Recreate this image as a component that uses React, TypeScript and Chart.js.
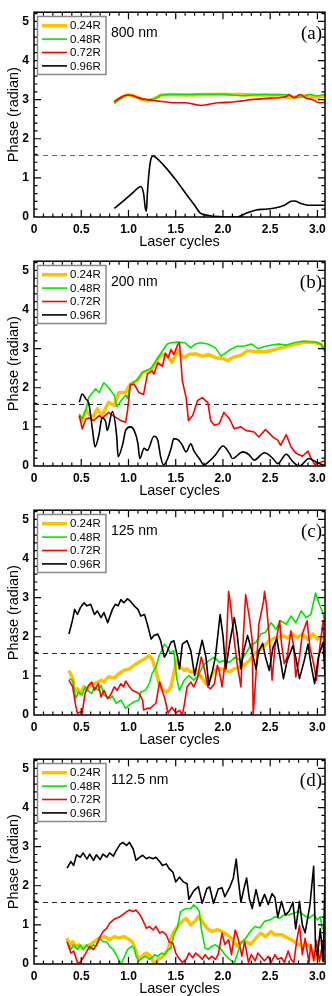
import React, { useEffect, useRef } from "react";
import { Chart, registerables } from "chart.js";

Chart.register(...registerables);

type P = [number, number];

const X_MIN = 0;
const X_MAX = 3.08;
const Y_MIN = 0;
const Y_MAX = 5.236;
const X_TICKS = [0, 0.5, 1, 1.5, 2, 2.5, 3];
const Y_TICKS = [0, 1, 2, 3, 4, 5];
const HALF_PI = Math.PI / 2;

const SERIES_NAMES = ["0.24R", "0.48R", "0.72R", "0.96R"];
const SERIES_COLORS = ["#ffc000", "#00e600", "#ff0000", "#000000"];
const SERIES_WIDTHS = [3.5, 1.6, 1.6, 1.6];
const WAVELENGTHS = ["800 nm", "200 nm", "125 nm", "112.5 nm"];
const PANEL_LABELS = ["(a)", "(b)", "(c)", "(d)"];
const DASH_COLORS = ["#666666", "#222222", "#222222", "#222222"];

// ---------- panel (a) 800 nm ----------
const A24: P[] = [[0.85,2.93],[0.9,3.02],[0.95,3.08],[1.0,3.12],[1.05,3.1],[1.1,3.05],[1.15,3.0],[1.2,2.97],[1.25,3.0],[1.3,3.06],[1.35,3.12],[1.45,3.13],[1.6,3.12],[1.8,3.13],[2.0,3.14],[2.2,3.13],[2.4,3.12],[2.6,3.12],[2.65,3.08],[2.7,3.05],[2.8,3.08],[2.9,3.1],[3.0,3.06],[3.08,3.1]];
const A48: P[] = [[0.85,2.9],[0.9,3.0],[0.95,3.08],[1.0,3.12],[1.05,3.1],[1.1,3.05],[1.15,3.02],[1.2,3.0],[1.25,3.0],[1.3,3.05],[1.35,3.12],[1.45,3.13],[1.6,3.13],[1.8,3.14],[2.0,3.14],[2.1,3.12],[2.2,3.1],[2.3,3.12],[2.45,3.13],[2.55,3.12],[2.65,3.13],[2.7,3.1],[2.78,3.05],[2.85,3.08],[2.92,3.13],[3.0,3.1],[3.08,3.13]];
const A72: P[] = [[0.85,2.95],[0.9,3.03],[0.95,3.1],[1.0,3.12],[1.05,3.1],[1.1,3.05],[1.2,3.0],[1.3,2.97],[1.4,2.94],[1.5,2.92],[1.6,2.92],[1.7,2.88],[1.77,2.85],[1.85,2.88],[1.95,2.92],[2.1,2.94],[2.2,2.97],[2.3,3.0],[2.4,3.02],[2.5,3.04],[2.6,3.05],[2.67,3.08],[2.7,3.13],[2.75,3.05],[2.78,3.08],[2.82,3.13],[2.87,3.05],[2.95,3.0],[3.02,2.92],[3.08,2.93]];
const A96: P[] = [[0.85,0.22],[0.95,0.42],[1.05,0.63],[1.1,0.74],[1.13,0.78],[1.16,0.6],[1.18,0.2],[1.19,0.15],[1.2,0.6],[1.22,1.2],[1.24,1.5],[1.26,1.56],[1.3,1.5],[1.4,1.25],[1.5,0.95],[1.6,0.62],[1.7,0.3],[1.76,0.1],[1.85,0.04],[1.95,0.01],[2.05,0.0],[2.15,0.0],[2.25,0.1],[2.35,0.18],[2.45,0.2],[2.55,0.23],[2.65,0.3],[2.72,0.4],[2.76,0.41],[2.82,0.35],[2.9,0.3],[3.0,0.3],[3.08,0.3]];

// ---------- panel (b) 200 nm ----------
const B24: P[] = [[0.48,1.29],[0.51,1.16],[0.55,1.42],[0.59,1.3],[0.62,1.23],[0.67,1.46],[0.72,1.29],[0.79,1.63],[0.85,1.55],[0.9,1.88],[0.97,1.88],[1.02,2.09],[1.09,2.17],[1.15,2.39],[1.24,2.45],[1.32,2.77],[1.36,2.85],[1.41,2.82],[1.46,2.65],[1.52,2.96],[1.55,2.85],[1.59,2.77],[1.64,2.85],[1.71,2.87],[1.78,2.81],[1.85,2.85],[1.92,2.77],[2.0,2.75],[2.05,2.69],[2.1,2.77],[2.19,2.83],[2.26,2.95],[2.35,2.92],[2.45,2.92],[2.56,2.98],[2.67,3.06],[2.77,3.11],[2.86,3.17],[2.98,3.15],[3.04,3.11],[3.07,2.98]];
const B48: P[] = [[0.48,1.33],[0.51,1.2],[0.55,1.45],[0.58,1.75],[0.65,1.97],[0.69,1.88],[0.74,2.13],[0.79,2.0],[0.85,1.81],[0.876,1.52],[0.92,1.66],[0.97,1.81],[0.99,1.73],[1.02,2.09],[1.09,2.2],[1.15,2.4],[1.24,2.5],[1.32,2.8],[1.37,2.98],[1.41,3.12],[1.45,3.15],[1.52,3.17],[1.6,3.15],[1.66,3.02],[1.71,3.12],[1.76,3.15],[1.84,3.12],[1.92,3.02],[1.98,2.81],[2.03,2.89],[2.08,2.98],[2.15,3.06],[2.22,3.06],[2.3,3.12],[2.37,3.0],[2.45,3.06],[2.53,3.1],[2.59,3.12],[2.67,3.09],[2.75,3.15],[2.84,3.19],[2.98,3.17],[3.04,3.11],[3.08,2.92]];
const B72: P[] = [[0.48,1.29],[0.51,0.95],[0.55,1.2],[0.58,1.23],[0.63,1.16],[0.69,1.29],[0.72,1.22],[0.79,1.37],[0.85,1.27],[0.92,1.16],[0.97,1.12],[0.99,1.42],[1.02,2.07],[1.06,2.09],[1.11,1.88],[1.16,1.83],[1.2,2.35],[1.25,2.43],[1.27,2.35],[1.31,2.64],[1.36,2.55],[1.39,2.89],[1.42,2.77],[1.45,2.98],[1.48,2.85],[1.52,3.1],[1.54,3.15],[1.57,2.18],[1.61,1.75],[1.635,1.16],[1.68,1.29],[1.73,1.67],[1.78,1.75],[1.84,1.62],[1.87,1.16],[1.91,1.04],[1.96,1.08],[2.01,1.37],[2.07,1.2],[2.12,0.95],[2.19,1.0],[2.24,0.91],[2.33,0.87],[2.38,0.74],[2.45,0.93],[2.53,0.74],[2.58,0.66],[2.61,0.53],[2.67,0.8],[2.72,0.49],[2.77,0.33],[2.84,0.25],[2.9,0.38],[2.93,0.21],[2.97,0.04],[3.02,0.08],[3.07,0.13]];
const B96: P[] = [[0.48,1.63],[0.51,1.84],[0.55,1.71],[0.58,1.6],[0.62,0.91],[0.646,0.49],[0.69,0.83],[0.72,1.23],[0.76,1.12],[0.775,0.91],[0.83,1.39],[0.876,0.74],[0.89,0.24],[0.94,0.57],[0.97,0.91],[1.02,1.0],[1.06,0.91],[1.1,0.57],[1.12,0.19],[1.165,0.45],[1.2,0.4],[1.27,0.76],[1.31,0.66],[1.34,0.24],[1.37,0.03],[1.41,0.16],[1.45,0.44],[1.48,0.7],[1.53,0.66],[1.57,0.53],[1.61,0.36],[1.66,0.57],[1.69,0.4],[1.75,0.19],[1.8,0.03],[1.85,0.11],[1.92,0.28],[2.0,0.51],[2.07,0.32],[2.1,0.19],[2.21,0.36],[2.28,0.28],[2.33,0.15],[2.44,0.34],[2.53,0.19],[2.58,0.06],[2.67,0.3],[2.74,0.11],[2.81,0.0],[2.91,0.19],[2.98,0.11],[3.05,0.03],[3.08,0.02]];

// ---------- panel (c) 125 nm ----------
const C24: P[] = [[0.37,1.14],[0.41,0.93],[0.43,0.59],[0.46,0.67],[0.49,0.55],[0.53,0.72],[0.56,0.63],[0.6,0.8],[0.65,0.81],[0.71,0.89],[0.74,0.84],[0.79,0.98],[0.85,0.95],[0.9,1.06],[0.95,1.14],[1.01,1.18],[1.06,1.27],[1.11,1.35],[1.17,1.43],[1.22,1.52],[1.25,1.43],[1.29,1.14],[1.32,0.84],[1.36,0.63],[1.41,0.59],[1.45,0.72],[1.48,1.06],[1.51,1.42],[1.55,1.22],[1.59,1.14],[1.62,1.18],[1.66,1.1],[1.71,1.14],[1.77,0.97],[1.82,0.8],[1.85,0.89],[1.91,1.14],[1.96,1.18],[2.01,1.16],[2.07,1.1],[2.12,1.18],[2.17,1.22],[2.22,1.27],[2.28,1.39],[2.33,1.56],[2.38,1.64],[2.44,1.77],[2.49,1.9],[2.56,1.98],[2.63,2.03],[2.68,1.97],[2.74,2.07],[2.79,1.98],[2.84,2.07],[2.9,1.94],[2.95,2.07],[3.0,1.94],[3.06,1.98],[3.08,1.95]];
const C48: P[] = [[0.37,0.93],[0.41,0.89],[0.44,0.42],[0.47,0.59],[0.51,0.51],[0.54,0.72],[0.57,0.63],[0.61,0.55],[0.64,0.72],[0.68,0.63],[0.71,0.76],[0.74,0.51],[0.8,0.42],[0.83,0.48],[0.87,0.3],[0.92,0.38],[0.97,0.17],[1.01,0.25],[1.06,0.34],[1.11,0.38],[1.13,0.59],[1.18,0.63],[1.22,0.8],[1.25,1.06],[1.29,1.22],[1.32,1.48],[1.38,1.81],[1.41,1.73],[1.44,1.6],[1.48,1.64],[1.51,0.95],[1.54,0.63],[1.59,0.89],[1.64,1.01],[1.69,0.89],[1.74,1.01],[1.79,1.27],[1.85,1.39],[1.91,1.48],[1.96,1.35],[2.01,1.39],[2.07,1.35],[2.13,1.48],[2.19,1.39],[2.24,1.56],[2.29,1.77],[2.35,1.86],[2.4,2.07],[2.45,2.11],[2.51,2.36],[2.56,2.19],[2.61,2.41],[2.67,2.32],[2.72,2.53],[2.77,2.36],[2.83,2.66],[2.88,2.49],[2.93,2.57],[2.98,3.12],[3.02,2.83],[3.06,2.6],[3.08,2.3]];
const C72: P[] = [[0.37,0.89],[0.41,0.72],[0.44,0.25],[0.46,0.04],[0.49,0.08],[0.51,0.04],[0.54,0.55],[0.57,0.72],[0.61,0.84],[0.64,0.63],[0.68,0.8],[0.71,0.46],[0.74,0.63],[0.78,0.42],[0.81,0.51],[0.85,0.72],[0.88,0.63],[0.92,0.8],[0.95,0.72],[0.97,0.87],[1.01,0.72],[1.04,0.63],[1.08,0.59],[1.11,0.55],[1.15,0.38],[1.16,0.13],[1.2,0.17],[1.23,0.17],[1.29,0.3],[1.33,0.85],[1.36,0.6],[1.38,0.46],[1.42,0.05],[1.46,0.2],[1.5,0.05],[1.54,0.12],[1.57,0.0],[1.59,0.25],[1.62,0.72],[1.66,0.84],[1.69,0.72],[1.73,0.93],[1.77,1.48],[1.8,1.22],[1.84,0.72],[1.87,0.67],[1.91,0.8],[1.94,1.27],[1.96,1.14],[1.99,0.72],[2.03,1.48],[2.06,3.16],[2.08,2.83],[2.12,1.9],[2.15,1.31],[2.19,0.72],[2.2,1.31],[2.24,3.08],[2.28,2.49],[2.31,1.9],[2.32,0.0],[2.35,1.05],[2.38,2.32],[2.43,2.91],[2.44,3.16],[2.46,2.83],[2.49,1.98],[2.52,0.89],[2.55,1.73],[2.6,2.41],[2.62,1.81],[2.65,1.31],[2.68,1.48],[2.72,2.15],[2.75,1.73],[2.77,0.97],[2.81,1.48],[2.84,2.07],[2.89,2.41],[2.92,1.73],[2.96,1.31],[2.99,0.89],[3.02,1.64],[3.06,2.41],[3.08,1.2]];
const C96: P[] = [[0.37,2.07],[0.41,2.45],[0.43,2.7],[0.46,2.57],[0.49,2.74],[0.53,2.87],[0.56,2.79],[0.6,2.83],[0.64,2.57],[0.67,2.66],[0.71,2.49],[0.74,2.62],[0.78,2.36],[0.83,2.7],[0.86,2.83],[0.89,2.79],[0.92,2.95],[0.95,2.87],[0.99,2.97],[1.02,2.91],[1.06,2.79],[1.1,2.7],[1.13,2.53],[1.17,2.57],[1.2,2.32],[1.24,1.94],[1.27,2.03],[1.31,2.07],[1.34,1.9],[1.38,1.48],[1.4,1.56],[1.45,1.86],[1.48,1.9],[1.52,1.48],[1.54,1.18],[1.57,1.81],[1.62,1.9],[1.66,1.64],[1.7,1.01],[1.74,1.48],[1.78,1.91],[1.82,1.48],[1.85,0.76],[1.89,1.14],[1.92,1.48],[1.97,2.57],[2.0,2.03],[2.03,1.18],[2.07,1.81],[2.12,2.49],[2.15,2.07],[2.19,1.18],[2.22,1.64],[2.26,2.03],[2.3,1.69],[2.35,1.18],[2.38,1.64],[2.42,1.83],[2.45,1.48],[2.49,1.14],[2.53,1.73],[2.57,1.95],[2.61,1.39],[2.64,0.93],[2.68,1.39],[2.74,1.77],[2.77,1.48],[2.81,0.93],[2.86,1.39],[2.9,1.81],[2.93,1.31],[2.97,0.8],[3.01,1.48],[3.06,1.86],[3.08,1.0]];

// ---------- panel (d) 112.5 nm ----------
const D24: P[] = [[0.35,0.66],[0.38,0.45],[0.41,0.57],[0.44,0.45],[0.47,0.49],[0.51,0.4],[0.54,0.45],[0.59,0.49],[0.64,0.57],[0.69,0.66],[0.75,0.7],[0.8,0.62],[0.85,0.7],[0.9,0.66],[0.95,0.7],[1.01,0.62],[1.04,0.57],[1.06,0.45],[1.09,0.24],[1.12,0.12],[1.16,0.24],[1.19,0.28],[1.23,0.2],[1.26,0.08],[1.28,0.0],[1.31,0.12],[1.35,0.16],[1.38,0.24],[1.42,0.37],[1.45,0.66],[1.48,0.83],[1.52,0.95],[1.55,1.05],[1.61,1.17],[1.66,1.0],[1.71,1.1],[1.74,1.22],[1.78,1.09],[1.83,0.92],[1.88,0.83],[1.94,0.88],[1.99,0.83],[2.04,0.75],[2.09,0.66],[2.15,0.45],[2.19,0.54],[2.24,0.58],[2.29,0.5],[2.35,0.66],[2.4,0.79],[2.45,0.7],[2.51,0.83],[2.55,0.75],[2.62,0.75],[2.69,0.66],[2.75,0.58],[2.8,0.5],[2.85,0.45],[2.9,0.5],[2.95,0.33],[2.98,0.12],[3.02,0.33],[3.05,0.12],[3.08,0.16]];
const D48: P[] = [[0.35,0.57],[0.39,0.37],[0.42,0.49],[0.46,0.37],[0.49,0.49],[0.52,0.37],[0.56,0.49],[0.59,0.37],[0.63,0.49],[0.66,0.45],[0.7,0.66],[0.73,0.57],[0.77,0.57],[0.8,0.45],[0.84,0.37],[0.87,0.24],[0.91,0.04],[0.92,0.0],[0.96,0.2],[0.99,0.37],[1.03,0.45],[1.06,0.41],[1.08,0.2],[1.11,0.08],[1.15,0.16],[1.18,0.2],[1.22,0.12],[1.25,0.16],[1.28,0.24],[1.31,0.2],[1.35,0.28],[1.38,0.24],[1.42,0.37],[1.45,0.41],[1.48,0.74],[1.52,0.95],[1.55,1.34],[1.61,1.42],[1.66,1.42],[1.69,1.51],[1.73,1.42],[1.75,1.34],[1.77,0.92],[1.81,0.41],[1.84,0.37],[1.88,0.45],[1.92,0.49],[1.97,0.41],[2.02,0.24],[2.07,0.12],[2.12,0.04],[2.15,0.24],[2.19,0.54],[2.24,0.66],[2.29,0.83],[2.34,0.96],[2.39,0.92],[2.44,1.09],[2.5,1.13],[2.55,1.21],[2.6,1.17],[2.65,1.26],[2.7,1.26],[2.75,1.3],[2.8,1.34],[2.85,1.26],[2.91,1.17],[2.96,1.26],[3.0,1.13],[3.03,1.21],[3.05,0.92],[3.08,0.85]];
const D72: P[] = [[0.35,0.57],[0.39,0.28],[0.42,0.33],[0.46,0.04],[0.49,0.04],[0.52,0.16],[0.56,0.33],[0.59,0.45],[0.63,0.37],[0.66,0.49],[0.7,0.7],[0.73,0.83],[0.77,0.91],[0.8,1.04],[0.84,1.13],[0.87,1.17],[0.91,1.21],[0.94,1.26],[0.98,1.34],[1.01,1.38],[1.05,1.34],[1.08,1.38],[1.12,1.26],[1.15,1.13],[1.19,0.91],[1.22,0.96],[1.26,0.87],[1.29,0.96],[1.33,0.79],[1.36,0.83],[1.4,0.74],[1.43,0.57],[1.47,0.53],[1.5,0.28],[1.53,0.16],[1.57,0.04],[1.61,0.12],[1.64,0.28],[1.68,0.16],[1.71,0.28],[1.75,0.2],[1.78,0.12],[1.81,0.24],[1.85,0.12],[1.88,0.2],[1.92,0.12],[1.95,0.24],[1.99,0.79],[2.02,0.5],[2.06,0.62],[2.09,0.24],[2.13,0.87],[2.16,0.66],[2.2,0.2],[2.23,0.58],[2.27,0.04],[2.3,0.24],[2.34,0.08],[2.37,0.28],[2.41,0.16],[2.44,0.08],[2.48,0.2],[2.51,0.04],[2.55,0.24],[2.58,0.12],[2.62,0.16],[2.65,0.04],[2.69,0.33],[2.72,0.12],[2.75,0.04],[2.78,0.58],[2.81,0.99],[2.84,0.24],[2.87,0.66],[2.91,0.04],[2.93,0.5],[2.96,0.08],[2.99,0.6],[3.02,0.06],[3.06,0.58],[3.08,0.44]];
const D96: P[] = [[0.35,2.45],[0.39,2.62],[0.42,2.52],[0.45,2.79],[0.49,2.73],[0.52,2.84],[0.56,2.68],[0.59,2.81],[0.63,2.65],[0.66,2.79],[0.7,2.67],[0.73,2.81],[0.77,2.73],[0.8,2.84],[0.84,2.76],[0.87,2.9],[0.91,3.06],[0.94,3.11],[0.98,3.03],[1.01,3.11],[1.05,2.94],[1.08,2.65],[1.12,2.73],[1.15,2.78],[1.19,2.69],[1.22,2.73],[1.26,2.69],[1.29,2.73],[1.33,2.62],[1.36,2.52],[1.4,2.56],[1.43,2.44],[1.47,2.35],[1.5,2.1],[1.54,2.22],[1.58,2.1],[1.62,2.05],[1.64,1.65],[1.69,1.87],[1.74,1.98],[1.78,1.55],[1.83,1.93],[1.86,1.97],[1.9,1.55],[1.95,1.92],[1.99,1.95],[2.02,1.72],[2.07,1.95],[2.11,2.2],[2.14,2.68],[2.16,2.2],[2.19,1.58],[2.22,1.9],[2.25,2.2],[2.28,1.66],[2.31,1.42],[2.35,1.9],[2.39,1.48],[2.44,1.78],[2.48,1.52],[2.52,1.8],[2.55,1.7],[2.58,1.2],[2.62,1.6],[2.66,1.25],[2.7,1.35],[2.74,1.58],[2.77,0.9],[2.81,1.6],[2.84,1.0],[2.87,0.8],[2.92,1.5],[2.96,2.5],[2.98,0.4],[3.0,0.2],[3.03,0.9],[3.06,0.06],[3.08,2.2]];

const PANEL_SERIES: P[][][] = [
  [A24, A48, A72, A96],
  [B24, B48, B72, B96],
  [C24, C48, C72, C96],
  [D24, D48, D72, D96],
];

const SANS = "'Liberation Sans', Arial, Helvetica, sans-serif";
const SERIF = "'Liberation Serif', 'Times New Roman', serif";
const W = 332;
const H = 249;

function makeFramePlugin(panel: number) {
  return {
    id: "frame" + panel,
    afterDraw(chart: any) {
      const { ctx, chartArea: a } = chart;
      const xs = chart.scales.x;
      const ys = chart.scales.y;
      ctx.save();
      ctx.strokeStyle = "#000";
      ctx.lineWidth = 1.5;
      ctx.strokeRect(a.left, a.top, a.right - a.left, a.bottom - a.top);
      ctx.lineWidth = 1.2;
      ctx.beginPath();
      const nx = Math.floor((X_MAX - X_MIN) * 10 + 1e-6);
      for (let i = 1; i <= nx; i++) {
        const v = X_MIN + i / 10;
        const L = i % 5 === 0 ? 7 : 3.5;
        const px = xs.getPixelForValue(v);
        ctx.moveTo(px, a.bottom);
        ctx.lineTo(px, a.bottom - L);
        ctx.moveTo(px, a.top);
        ctx.lineTo(px, a.top + L);
      }
      const ny = Math.floor((Y_MAX - Y_MIN) * 5 + 1e-6);
      for (let i = 1; i <= ny; i++) {
        const v = Y_MIN + i / 5;
        const L = i % 5 === 0 ? 7 : 3.5;
        const py = ys.getPixelForValue(v);
        ctx.moveTo(a.left, py);
        ctx.lineTo(a.left + L, py);
        ctx.moveTo(a.right, py);
        ctx.lineTo(a.right - L, py);
      }
      ctx.stroke();

      const bx = a.left + 3.5;
      const by = a.top + 4.3;
      const bw = 68.5;
      const bh = 58;
      ctx.fillStyle = "#fff";
      ctx.fillRect(bx, by, bw, bh);
      ctx.strokeStyle = "#888";
      ctx.lineWidth = 1.5;
      ctx.strokeRect(bx, by, bw, bh);
      ctx.font = `11.5px ${SANS}`;
      ctx.textBaseline = "middle";
      ctx.textAlign = "left";
      for (let k = 0; k < 4; k++) {
        const ry = by + 9.2 + k * 13.4;
        ctx.strokeStyle = SERIES_COLORS[k];
        ctx.lineWidth = SERIES_WIDTHS[k];
        ctx.beginPath();
        ctx.moveTo(bx + 4.5, ry);
        ctx.lineTo(bx + 29.5, ry);
        ctx.stroke();
        ctx.fillStyle = "#000";
        ctx.fillText(SERIES_NAMES[k], bx + 32.5, ry + 0.5);
      }

      ctx.font = `14px ${SANS}`;
      ctx.fillStyle = "#000";
      ctx.textAlign = "left";
      ctx.fillText(WAVELENGTHS[panel], a.left + 77, a.top + 20.5);

      ctx.font = `19px ${SERIF}`;
      ctx.textAlign = "right";
      ctx.fillText(PANEL_LABELS[panel], a.right - 3, a.top + 22);
      ctx.restore();
    },
  };
}

function buildConfig(panel: number): any {
  const series = PANEL_SERIES[panel];
  const datasets: any[] = series.map((pts, k) => ({
    label: SERIES_NAMES[k],
    data: pts.map(([x, y]) => ({ x, y })),
    borderColor: SERIES_COLORS[k],
    backgroundColor: SERIES_COLORS[k],
    borderWidth: SERIES_WIDTHS[k],
    pointRadius: 0,
    fill: false,
    tension: 0,
    cubicInterpolationMode: panel === 0 || (panel === 1 && k === 3) ? "monotone" : "default",
    borderJoinStyle: "round",
    order: 4 - k,
  }));
  datasets.push({
    label: "pi/2",
    data: [
      { x: X_MIN, y: HALF_PI },
      { x: X_MAX, y: HALF_PI },
    ],
    borderColor: DASH_COLORS[panel],
    borderWidth: 1.1,
    borderDash: [5, 4],
    pointRadius: 0,
    fill: false,
    order: 10,
  });
  return {
    type: "line",
    data: { datasets },
    options: {
      animation: false,
      responsive: false,
      maintainAspectRatio: false,
      events: [],
      layout: { padding: { top: 9, right: 7, left: 0, bottom: 0 } },
      plugins: {
        legend: { display: false },
        tooltip: { enabled: false },
      },
      scales: {
        x: {
          type: "linear",
          min: X_MIN,
          max: X_MAX,
          afterFit: (s: any) => {
            s.height = 32;
          },
          afterBuildTicks: (s: any) => {
            s.ticks = X_TICKS.map((v) => ({ value: v }));
          },
          grid: { display: false, drawTicks: false },
          border: { display: false },
          ticks: {
            padding: 5,
            color: "#000",
            maxRotation: 0,
            autoSkip: false,
            font: { family: SANS, weight: "bold", size: 12, lineHeight: 1.2 },
          },
          title: {
            display: true,
            text: "Laser cycles",
            color: "#000",
            padding: { top: 0, bottom: 0 },
            font: { family: SANS, size: 14.5, lineHeight: 1 },
          },
        },
        y: {
          type: "linear",
          min: Y_MIN,
          max: Y_MAX,
          afterFit: (s: any) => {
            s.width = 34;
          },
          afterBuildTicks: (s: any) => {
            s.ticks = Y_TICKS.map((v) => ({ value: v }));
          },
          grid: { display: false, drawTicks: false },
          border: { display: false },
          ticks: {
            padding: 5,
            color: "#000",
            autoSkip: false,
            font: { family: SANS, weight: "bold", size: 12 },
          },
          title: {
            display: true,
            text: "Phase (radian)",
            color: "#000",
            padding: { top: 6.5, bottom: 0 },
            font: { family: SANS, size: 14.5, lineHeight: 1 },
          },
        },
      },
    },
    plugins: [makeFramePlugin(panel)],
  };
}

function Panel({ index }: { index: number }) {
  const ref = useRef<HTMLCanvasElement | null>(null);
  useEffect(() => {
    if (!ref.current) return;
    const chart = new Chart(ref.current, buildConfig(index));
    return () => chart.destroy();
  }, [index]);
  return (
    <div style={{ width: W, height: H, position: "relative" }}>
      <canvas ref={ref} width={W} height={H} style={{ display: "block", width: W, height: H }} />
    </div>
  );
}

export default function App() {
  return (
    <div style={{ position: "absolute", left: 0, top: 0, width: W, height: 4 * H, background: "#fff" }}>
      {[0, 1, 2, 3].map((i) => (
        <Panel key={i} index={i} />
      ))}
    </div>
  );
}
